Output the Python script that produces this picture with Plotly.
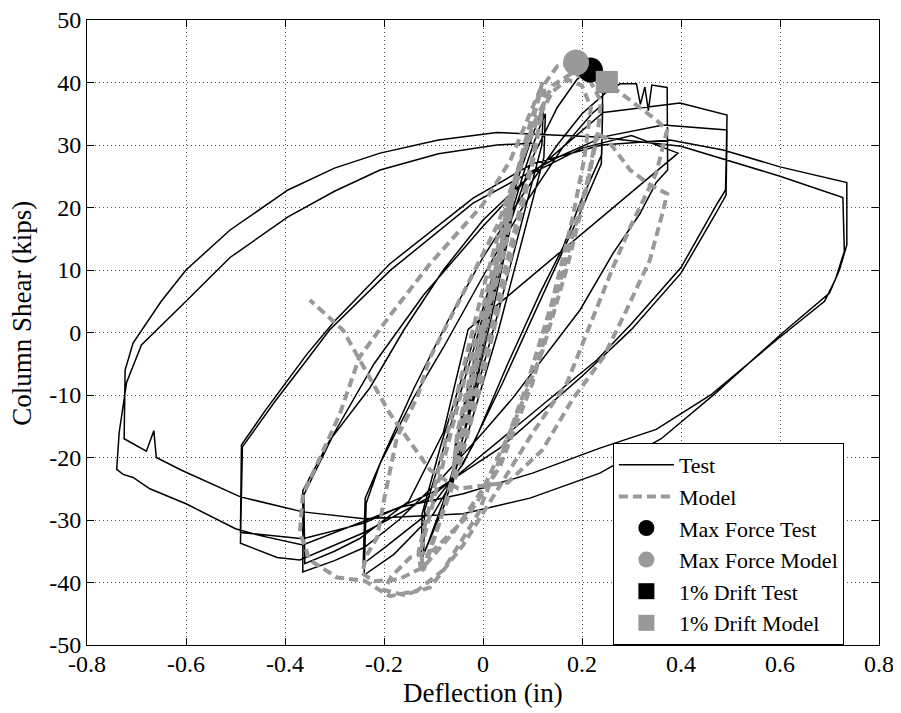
import plotly.graph_objects as go

# ---------------- tick labels ----------------
x_ticks = [-0.8, -0.6, -0.4, -0.2, 0.0, 0.2, 0.4, 0.6, 0.8]
x_labels = ["-0.8", "-0.6", "-0.4", "-0.2", "0", "0.2", "0.4", "0.6", "0.8"]
y_ticks = [-50, -40, -30, -20, -10, 0, 10, 20, 30, 40, 50]
y_labels = ["-50", "-40", "-30", "-20", "-10", "0", "10", "20", "30", "40", "50"]

# ---------------- Test record (deflection in, shear kips) ----------------
test_points = [
    (0.000, 0.0), (0.015, 6.5), (0.030, 12.5), (0.026, 8.5), (0.000, -1.5), (-0.015, -8.0),
    (-0.030, -13.5), (-0.026, -9.5), (0.000, 0.5), (0.030, 12.0), (0.026, 8.0), (0.000, -2.0),
    (-0.030, -13.0), (-0.026, -9.0),
    (0.010, 4.0), (0.040, 16.0), (0.062, 23.5), (0.056, 18.0), (0.020, 5.0), (-0.020, -9.0),
    (-0.062, -24.5), (-0.056, -19.0), (-0.020, -6.0), (0.020, 8.0), (0.062, 22.5), (0.056, 17.0),
    (0.020, 3.5), (-0.020, -10.5), (-0.062, -23.5), (-0.056, -18.0),
    (-0.020, -5.0), (0.030, 12.0), (0.070, 24.5), (0.100, 31.5), (0.122, 36.5), (0.119, 30.0),
    (0.080, 18.0), (0.030, 3.0), (-0.030, -14.0), (-0.080, -27.0), (-0.110, -33.5), (-0.125, -36.5),
    (-0.123, -29.0), (-0.085, -18.0), (-0.030, -4.0), (0.030, 12.0), (0.080, 25.0), (0.110, 32.0),
    (0.126, 35.0), (0.123, 28.0), (0.080, 15.0), (0.030, 0.0), (-0.030, -16.0), (-0.080, -28.0),
    (-0.120, -35.5), (-0.118, -28.5),
    (-0.070, -16.0), (-0.020, -3.0), (0.040, 14.0), (0.100, 28.0), (0.150, 36.0), (0.190, 40.5),
    (0.215, 42.0), (0.232, 41.0), (0.242, 40.2), (0.240, 28.5), (0.196, 20.7), (0.162, 13.7),
    (0.115, 6.3), (0.050, -5.0), (-0.020, -18.0), (-0.100, -29.0), (-0.180, -35.5), (-0.240, -38.8),
    (-0.236, -27.3), (-0.208, -21.0), (-0.140, -10.4), (-0.080, -2.4), (0.000, 9.0), (0.080, 20.0),
    (0.160, 29.5), (0.220, 35.0), (0.242, 36.5), (0.239, 27.0), (0.190, 18.0), (0.110, 4.0),
    (0.040, -8.0), (-0.040, -21.0), (-0.120, -29.5), (-0.200, -34.5), (-0.242, -37.0), (-0.238, -26.5),
    (-0.200, -19.5), (-0.140, -9.0), (-0.070, 2.0), (0.000, 12.0), (0.080, 22.0), (0.150, 30.0),
    (0.200, 35.0), (0.250, 38.5), (0.277, 39.8), (0.310, 39.8), (0.318, 36.5), (0.327, 39.3),
    (0.334, 35.5), (0.341, 39.6), (0.372, 39.2), (0.373, 26.0), (0.350, 24.0), (0.317, 19.0),
    (0.263, 12.7), (0.196, 3.6), (0.129, -3.4), (0.060, -10.5), (0.000, -16.0), (-0.080, -23.0),
    (-0.170, -30.0), (-0.240, -34.4), (-0.300, -36.5), (-0.364, -38.3), (-0.364, -25.3),
    (-0.310, -17.3), (-0.228, -8.8), (-0.160, 0.4), (-0.080, 10.0), (0.000, 18.0), (0.100, 25.5),
    (0.200, 29.5), (0.300, 31.5), (0.394, 28.7), (-0.030, 0.5), (-0.080, -16.0), (-0.150, -27.0),
    (-0.250, -33.0), (-0.300, -35.0), (-0.360, -37.0), (-0.362, -26.0),
    (-0.300, -16.0), (-0.220, -5.0), (-0.120, 6.0), (0.000, 17.0), (0.100, 25.5), (0.243, 35.2),
    (0.398, 36.7), (0.493, 34.8), (0.490, 22.8), (0.473, 20.6), (0.400, 10.4), (0.300, 1.4),
    (0.230, -4.4), (0.190, -7.0), (0.034, -17.3), (-0.100, -26.0), (-0.240, -32.0), (-0.370, -36.4),
    (-0.416, -36.0), (-0.490, -33.7), (-0.486, -18.3),
    (-0.420, -11.0), (-0.356, -4.4), (-0.310, 0.4), (-0.188, 9.9), (-0.020, 20.7), (0.150, 28.0),
    (0.243, 31.3), (0.364, 33.2), (0.493, 32.4), (0.491, 22.0), (0.470, 19.0), (0.400, 9.5),
    (0.300, 0.5), (0.200, -7.0), (0.034, -18.5), (-0.100, -25.5), (-0.240, -30.5), (-0.364, -33.0),
    (-0.490, -32.0), (-0.488, -18.0),
    (-0.440, -12.5), (-0.356, -3.5), (-0.300, 1.8), (-0.188, 11.0), (-0.020, 21.5), (0.100, 27.0),
    (0.240, 30.0), (0.378, 30.8), (0.485, 29.2), (0.600, 26.5), (0.735, 24.0), (0.735, 14.0),
    (0.720, 10.0), (0.700, 6.3), (0.606, 0.0), (0.470, -9.7), (0.360, -17.0), (0.236, -22.5),
    (0.095, -26.5), (-0.040, -29.0), (-0.240, -29.8), (-0.364, -28.7), (-0.490, -26.3),
    (-0.610, -22.0), (-0.660, -20.0), (-0.665, -15.7), (-0.680, -19.0), (-0.725, -17.0),
    (-0.723, -6.0), (-0.707, -1.7), (-0.650, 5.0), (-0.600, 10.0), (-0.511, 16.4), (-0.394, 22.8),
    (-0.300, 26.3), (-0.208, 28.7), (-0.090, 30.8), (0.028, 32.0), (0.230, 31.3), (0.400, 29.8),
    (0.600, 25.0), (0.727, 21.6), (0.730, 13.0), (0.712, 8.5),
    (0.690, 5.0), (0.596, -1.0), (0.460, -10.0), (0.350, -15.5), (0.236, -18.5), (0.100, -22.5),
    (-0.040, -25.8), (-0.170, -28.0), (-0.364, -34.0), (-0.450, -32.5), (-0.500, -31.4),
    (-0.600, -27.4), (-0.673, -25.0), (-0.707, -23.2), (-0.727, -22.7), (-0.740, -21.9),
    (-0.735, -16.0),
    (-0.720, -8.0), (-0.690, -2.0), (-0.600, 5.0), (-0.511, 12.0), (-0.394, 18.5), (-0.300, 22.6),
    (-0.208, 26.0), (-0.090, 28.6), (0.028, 30.0), (0.100, 30.3),
]

# ---------------- Model record ----------------
model_points = [
    (0.000, 0.0), (0.030, 12.0), (0.026, 9.0), (-0.030, -12.0), (-0.026, -9.0), (0.030, 12.0),
    (0.026, 9.0), (-0.030, -12.0), (-0.026, -9.0),
    (0.000, 1.0), (0.060, 22.0), (0.052, 17.0), (0.000, 0.0), (-0.060, -22.0), (-0.052, -17.0),
    (0.000, 1.0), (0.060, 22.0), (0.052, 16.0), (0.000, -1.0), (-0.060, -22.0), (-0.052, -16.0),
    (0.000, 2.0), (0.050, 18.0), (0.090, 31.0), (0.118, 39.0), (0.124, 37.0), (0.100, 28.0),
    (0.050, 12.0), (0.000, -5.0), (-0.050, -20.0), (-0.090, -31.0), (-0.120, -38.0), (-0.126, -35.0),
    (-0.100, -27.0), (-0.050, -11.0), (0.000, 4.0), (0.050, 20.0), (0.090, 32.0), (0.120, 40.0),
    (0.126, 38.0), (0.100, 27.0), (0.050, 10.0), (0.000, -7.0), (-0.050, -22.0), (-0.100, -33.0),
    (-0.125, -38.5), (-0.130, -35.0),
    (-0.100, -25.0), (-0.050, -9.0), (0.000, 7.0), (0.050, 21.0), (0.100, 33.0), (0.140, 39.5),
    (0.180, 41.5), (0.215, 40.5), (0.238, 37.0), (0.232, 32.0), (0.212, 24.0), (0.172, 11.0),
    (0.120, -3.0), (0.060, -15.0), (0.000, -25.0), (-0.060, -32.0), (-0.120, -37.5),
    (-0.170, -39.5), (-0.220, -39.8), (-0.245, -38.5),
    (-0.234, -35.5), (-0.214, -32.8), (-0.200, -26.8), (-0.174, -16.8), (-0.133, -10.4),
    (-0.107, -4.0), (-0.040, 6.3), (0.028, 17.0), (0.080, 28.0), (0.110, 34.0), (0.140, 38.5),
    (0.170, 40.5), (0.200, 39.5), (0.218, 36.0), (0.205, 28.0), (0.180, 18.0), (0.140, 5.0),
    (0.090, -8.0), (0.040, -19.0), (-0.010, -29.0), (-0.080, -38.0), (-0.133, -41.3),
    (-0.188, -42.2), (-0.240, -39.7), (-0.295, -39.2), (-0.350, -36.4), (-0.370, -32.0),
    (-0.364, -26.0),
    (-0.335, -21.0), (-0.289, -13.0), (-0.250, -4.0), (-0.190, 2.5), (-0.107, 11.0), (0.000, 20.5),
    (0.055, 27.5), (0.115, 38.8), (0.150, 42.6), (0.188, 43.2), (0.220, 41.5), (0.250, 40.0),
    (0.270, 38.8), (0.350, 34.0), (0.372, 32.4), (0.364, 29.7), (0.350, 25.5), (0.330, 22.2),
    (0.297, 16.8), (0.263, 10.5), (0.236, 5.1), (0.210, 0.0), (0.170, -8.0), (0.100, -16.1),
    (0.030, -25.0), (-0.040, -34.0), (-0.107, -40.8), (-0.160, -42.0), (-0.200, -41.2),
    (-0.185, -39.0), (-0.147, -36.0),
    (-0.100, -34.8), (-0.032, -29.5), (0.034, -21.5), (0.100, -8.1), (0.155, 7.9), (0.210, 23.9),
    (0.230, 31.9), (0.250, 31.0), (0.297, 26.0), (0.340, 23.5), (0.372, 22.2), (0.364, 19.5),
    (0.337, 11.6), (0.290, 3.6), (0.243, -4.0), (0.180, -10.8), (0.120, -18.8), (0.050, -24.0),
    (-0.050, -25.0), (-0.107, -22.0), (-0.188, -13.0), (-0.283, 0.4), (-0.350, 5.2),
]

# ---------------- key points ----------------
max_force_test = (0.217, 42.0)
max_force_model = (0.188, 43.2)
drift_test = (0.250, 40.0)
drift_model = (0.250, 40.1)

BLACK = "#000000"
GRAY = "#999999"
FONT = "Liberation Serif, Times New Roman, serif"

fig = go.Figure()
fig.add_trace(go.Scatter(
    x=[p[0] for p in test_points], y=[p[1] for p in test_points],
    mode="lines", name="Test", line=dict(color=BLACK, width=1.5)))
fig.add_trace(go.Scatter(
    x=[p[0] for p in model_points], y=[p[1] for p in model_points],
    mode="lines", name="Model", line=dict(color=GRAY, width=4, dash="9px,5px")))
fig.add_trace(go.Scatter(
    x=[max_force_test[0]], y=[max_force_test[1]], mode="markers", name="Max Force Test",
    marker=dict(symbol="circle", size=25, color=BLACK)))
fig.add_trace(go.Scatter(
    x=[max_force_model[0]], y=[max_force_model[1]], mode="markers", name="Max Force Model",
    marker=dict(symbol="circle", size=26, color=GRAY)))
fig.add_trace(go.Scatter(
    x=[drift_test[0]], y=[drift_test[1]], mode="markers", name="1% Drift Test",
    marker=dict(symbol="square", size=21, color=BLACK)))
fig.add_trace(go.Scatter(
    x=[drift_model[0]], y=[drift_model[1]], mode="markers", name="1% Drift Model",
    marker=dict(symbol="square", size=22, color=GRAY)))

axis_common = dict(
    ticks="inside", ticklen=7, tickcolor=BLACK, tickwidth=1,
    showline=True, linecolor=BLACK, linewidth=1, mirror="ticks",
    showgrid=True, gridcolor="#555555", griddash="1px,3px", gridwidth=1,
    zeroline=False, automargin=False, ticklabeloverflow="allow",
    tickfont=dict(family=FONT, size=24, color=BLACK),
)

fig.update_xaxes(range=[-0.8, 0.8], tickvals=x_ticks, ticktext=x_labels,
                 ticklabelstandoff=-3, **axis_common)
fig.update_yaxes(range=[-50, 50], tickvals=y_ticks, ticktext=y_labels, **axis_common)

# axis titles as paper-anchored text (placed like the original)
fig.add_annotation(text="Deflection (in)", xref="paper", yref="paper", x=0.5, y=-0.076,
                   xanchor="center", yanchor="middle", showarrow=False,
                   font=dict(family=FONT, size=27, color=BLACK))
fig.add_annotation(text="Column Shear (kips)", xref="paper", yref="paper", x=-0.082, y=0.53,
                   xanchor="center", yanchor="middle", showarrow=False, textangle=-90,
                   font=dict(family=FONT, size=27, color=BLACK))

# page body has an 8px margin: figure is sized so the plot area lands where the original's is
fig.update_layout(
    width=893, height=705,
    margin=dict(l=79, r=22, t=12, b=68),
    plot_bgcolor="white", paper_bgcolor="white",
    font=dict(family=FONT, size=24, color=BLACK),
    showlegend=True,
    legend=dict(x=0.664, y=0.3232, xanchor="left", yanchor="top",
                bordercolor=BLACK, borderwidth=1, bgcolor="white",
                font=dict(family=FONT, size=22, color=BLACK),
                itemwidth=55, tracegroupgap=0, itemsizing="trace"),
)

fig.write_html("out.html")
